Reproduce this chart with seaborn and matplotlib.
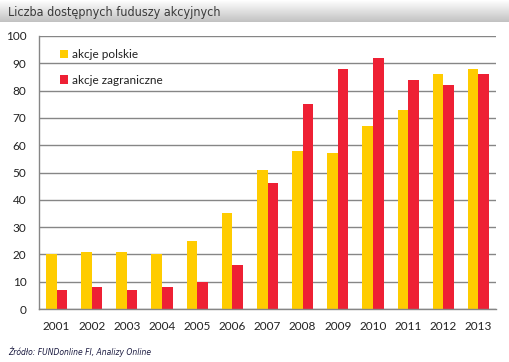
import numpy as np
import pandas as pd
import matplotlib
matplotlib.use("Agg")
import matplotlib.pyplot as plt
import seaborn as sns

years = ["2001", "2002", "2003", "2004", "2005", "2006", "2007",
         "2008", "2009", "2010", "2011", "2012", "2013"]
polskie = [20, 21, 21, 20, 25, 35, 51, 58, 57, 67, 73, 86, 88]
zagraniczne = [7, 8, 7, 8, 10, 16, 46, 75, 88, 92, 84, 82, 86]
series_names = ["akcje polskie", "akcje zagraniczne"]
yticks = [0, 10, 20, 30, 40, 50, 60, 70, 80, 90, 100]
title = "Liczba dostępnych fuduszy akcyjnych"
source = "Źródło: FUNDonline FI, Analizy Online"

df = pd.DataFrame({
    "rok": years * 2,
    "wartosc": polskie + zagraniczne,
    "seria": [series_names[0]] * len(years) + [series_names[1]] * len(years),
})

sns.set_theme(style="white")
plt.rcParams['font.family'] = ['Lato', 'DejaVu Sans']

W, H = 510, 362
fig = plt.figure(figsize=(W / 100, H / 100), dpi=100)

# title bar with vertical gradient
tax = fig.add_axes([0, 1 - 22 / H, 1, 22 / H])
grad = np.linspace(1.0, 0.76, 50).reshape(-1, 1)
tax.imshow(np.dstack([grad, grad, grad]), aspect="auto", extent=[0, 1, 0, 1])
tax.set_xlim(0, 1)
tax.set_ylim(0, 1)
tax.axis("off")
tax.text(8 / W, 0.45, title, fontsize=9.0, color="#3a3a3a", va="center", ha="left",
         family=["DejaVu Sans"], fontstretch="condensed")

gridc = "#868686"
ax = fig.add_axes([39 / W, (H - 309) / H, (496 - 39) / W, (309 - 36) / H])
sns.barplot(data=df, x="rok", y="wartosc", hue="seria", ax=ax,
            palette=["#FFCC00", "#EE2034"], width=0.6, saturation=1,
            errorbar=None, legend=True, linewidth=0, edgecolor="none")
ax.set_ylim(0, 100)
ax.set_xlim(-0.5, len(years) - 0.5)
ax.set_yticks(yticks)
ax.set_yticklabels([str(v) for v in yticks], fontsize=8.5, color="#222222")
ax.yaxis.grid(True, color=gridc, linewidth=1)
ax.set_axisbelow(True)
ax.set_xlabel("")
ax.set_ylabel("")
ax.tick_params(axis="x", which="major", length=0, pad=9, labelsize=8.5, labelcolor="#222222")
ax.set_xticks(np.arange(-0.5, len(years), 1), minor=True)
ax.tick_params(axis="x", which="minor", length=5, color=gridc, width=1, direction="out")
ax.tick_params(axis="y", length=5, color=gridc, width=1, direction="out", pad=4)
for s in ["top", "right"]:
    ax.spines[s].set_visible(False)
for s in ["left", "bottom"]:
    ax.spines[s].set_color(gridc)
    ax.spines[s].set_linewidth(1)

leg = ax.legend(loc="upper left", bbox_to_anchor=(0.035, 0.97), frameon=False,
                fontsize=8.5, handlelength=0.7, handleheight=0.7, handletextpad=0.3,
                labelspacing=1.25, borderaxespad=0)
for t in leg.get_texts():
    t.set_color("#222222")

fig.text(8 / W, 1 - 352 / H, source, fontsize=5.5, style="italic", color="#1a1a40",
         va="center", ha="left", family=["DejaVu Sans"])

fig.savefig("out.png", dpi=100)
